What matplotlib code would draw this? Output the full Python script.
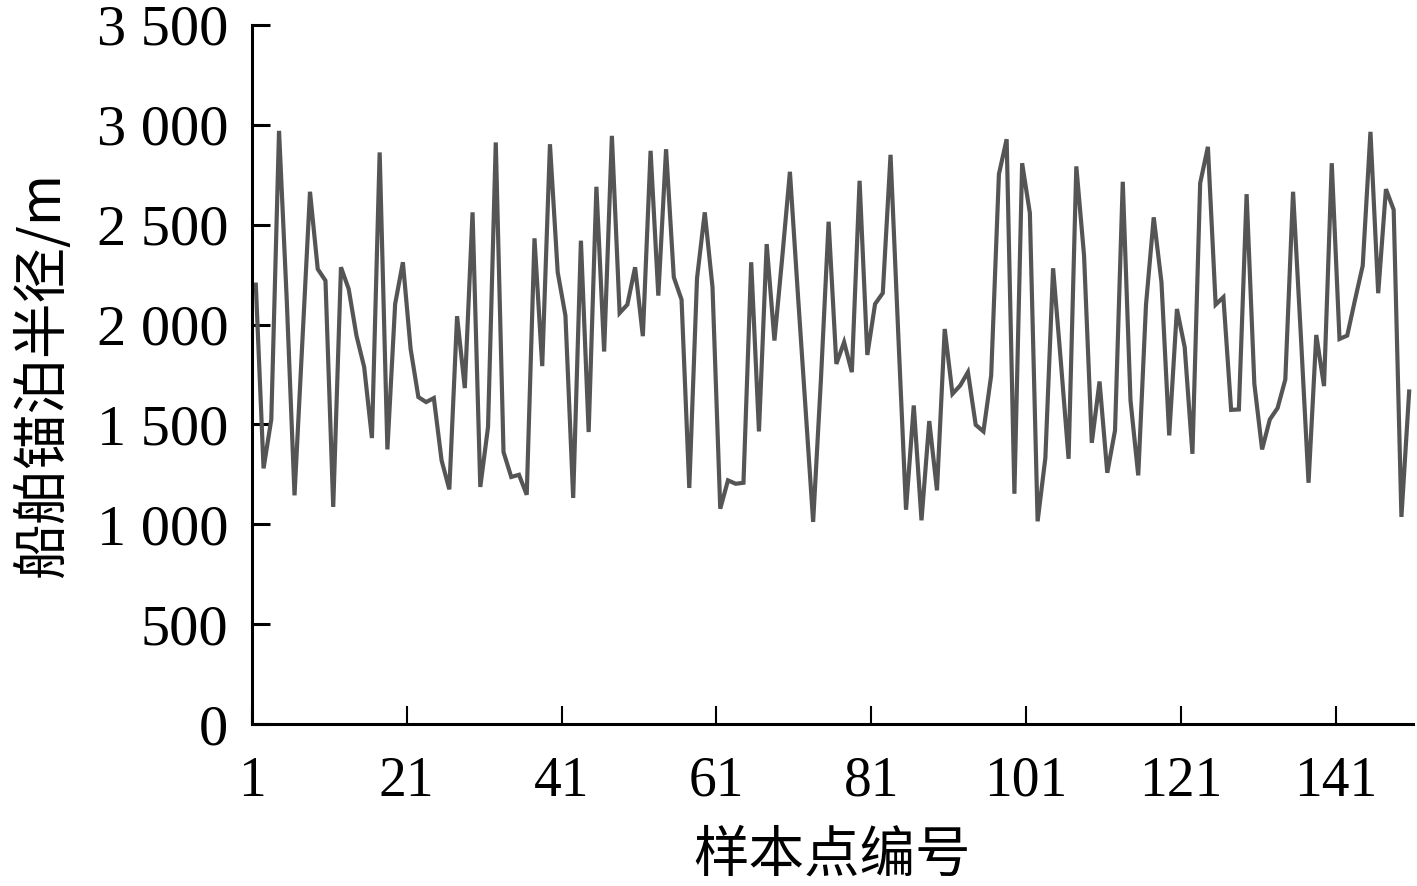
import matplotlib
matplotlib.use("Agg")
import matplotlib.pyplot as plt
from matplotlib.ticker import FuncFormatter

# sample index 1..150
radius = [
    2200, 1280, 1525, 2970, 2120, 1145, 1900, 2665, 2278, 2220,
    1087, 2287, 2178, 1945, 1787, 1432, 2862, 1375, 2103, 2312,
    1878, 1637, 1612, 1632, 1320, 1175, 2042, 1682, 2562, 1187,
    1487, 2912, 1362, 1237, 1248, 1148, 2432, 1792, 2903, 2262,
    2045, 1132, 2420, 1462, 2690, 1865, 2945, 2058, 2100, 2287,
    1942, 2870, 2145, 2878, 2237, 2125, 1182, 2232, 2562, 2187,
    1078, 1220, 1203, 1208, 2312, 1465, 2403, 1920, 2333, 2765,
    2170, 1590, 1012, 1720, 2515, 1803, 1912, 1762, 2720, 1848,
    2103, 2158, 2850, 1950, 1073, 1595, 1020, 1517, 1170, 1978,
    1653, 1695, 1762, 1498, 1465, 1745, 2753, 2928, 1153, 2808,
    2558, 1015, 1332, 2282, 1815, 1328, 2792, 2345, 1408, 1715,
    1258, 1470, 2715, 1620, 1245, 2098, 2537, 2212, 1445, 2078,
    1887, 1353, 2708, 2890, 2100, 2137, 1573, 1575, 2653, 1703,
    1375, 1525, 1582, 1725, 2665, 1950, 1208, 1948, 1692, 2808,
    1928, 1945, 2123, 2295, 2965, 2157, 2678, 2575, 1037, 1665,
]
sample_ids = list(range(1, len(radius) + 1))
x_tick_labels = ["1", "21", "41", "61", "81", "101", "121", "141"]
y_ticks = [0, 500, 1000, 1500, 2000, 2500, 3000, 3500]
x_label = "样本点编号"
y_label = "船舶锚泊半径/m"

num_font = "Liberation Serif"
cjk_font = ["Noto Sans CJK SC", "DejaVu Sans"]

fig = plt.figure(figsize=(14.17, 8.86), dpi=100)
ax = fig.add_axes([0.1778, 0.1828, 0.9972 - 0.1778, 0.9718 - 0.1828])

ax.plot(sample_ids, radius, color="#555555", linewidth=3.0, solid_joinstyle="miter")

n = len(radius)
ax.set_xlim(0.5, n + 0.5)
ax.set_ylim(0, 3500)

# category boundaries every 20 samples
xt = [0.5 + 20 * k for k in range(len(x_tick_labels))]
ax.set_xticks(xt)
ax.set_xticklabels(x_tick_labels)
ax.set_yticks(y_ticks)
ax.yaxis.set_major_formatter(FuncFormatter(lambda v, p: f"{int(v):,}".replace(",", " ")))

for s in ["top", "right"]:
    ax.spines[s].set_visible(False)
for s in ["left", "bottom"]:
    ax.spines[s].set_linewidth(2.2)
    ax.spines[s].set_color("black")

ax.tick_params(axis="y", direction="in", length=13, width=2.2, pad=17,
               labelsize=42, colors="black")
ax.tick_params(axis="x", direction="in", length=13, width=1.5, pad=23,
               labelsize=40, colors="black")
for lab in ax.get_yticklabels() + ax.get_xticklabels():
    lab.set_fontfamily(num_font)

ax.set_xlabel(x_label, fontsize=40, family=cjk_font, labelpad=14)
ax.set_ylabel(y_label, fontsize=40, family=cjk_font, labelpad=18)

fig.savefig("out.png", dpi=100)
